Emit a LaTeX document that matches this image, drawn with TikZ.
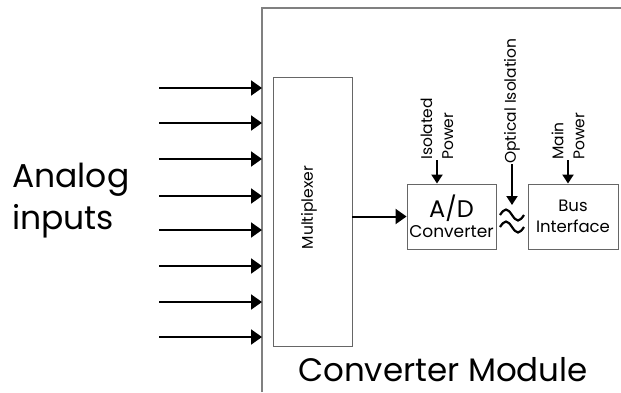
\documentclass[tikz,border=0pt]{standalone}
\usepackage{fontspec}
\setmainfont{Poppins}
\usetikzlibrary{arrows.meta, positioning, calc}

\begin{document}
\begin{tikzpicture}[x=1pt, y=-1pt,
        every node/.style={inner sep=0pt},
        blockbox/.style={draw=black!60, line width=0.9pt, align=center},
        sig/.style={-{Triangle[length=11pt,width=15pt]}, line width=2pt},
        pwr/.style={-{Triangle[length=9pt,width=11pt]}, line width=2pt},
        vlabel/.style={rotate=90, anchor=west, align=left, font=\fontsize{15.5}{21}\selectfont}
    ]
    \useasboundingbox (0,0) rectangle (621,392);
    % module outline
    \coordinate (modbl) at (262,392);
    \coordinate (modtr) at (621,8);
    \draw[black!50, line width=1.6pt] (modbl) |- (modtr);
    \node[anchor=base] (modname) at (443,381) {\fontsize{32.5}{36}\selectfont Converter Module};

    % multiplexer
    \node[blockbox, minimum width=79pt, minimum height=269pt] (mux) at (312.5,211.5) {};
    \node[rotate=90, font=\fontsize{15.5}{18}\selectfont] (muxname) at (309,207.5) {Multiplexer};

    % analog inputs
    \node[anchor=west, align=left, font=\fontsize{33}{42}\selectfont] (analog) at (12,201) {Analog\\inputs};
    \foreach \y [count=\i] in {88,123,159,196,230,266,302,337} {
        \coordinate (in\i) at (159,\y);
        \draw[sig] (in\i) -- (in\i -| modbl);
    }

    % converter and bus interface
    \node[blockbox, minimum width=89pt, minimum height=65pt, font=\fontsize{17}{20}\selectfont] (adc) at (451.5,216.5)
        {{\fontsize{24}{22}\selectfont A/D}\\Converter};
    \node[blockbox, minimum width=90pt, minimum height=65pt, font=\fontsize{16.5}{21}\selectfont] (bus) at (573,216.5)
        {Bus\\Interface};
    \draw[sig] (mux.east |- adc.west) -- (adc.west);

    % power and isolation
    \node[vlabel] (isopow) at (437,160) {Isolated\\Power};
    \draw[pwr] (isopow.west) -- (isopow.west |- adc.north);
    \node[vlabel] (mainpow) at (568,160) {Main\\Power};
    \draw[pwr] (mainpow.west) -- (mainpow.west |- bus.north);
    \coordinate (approx) at (512,205);
    \foreach \dy in {10,22}
        \draw[line width=2.2pt] ($(approx)+(-12,\dy)$) sin ++(6,-5.5) cos ++(6,5.5) sin ++(6,5.5) cos ++(6,-5.5);
    \node[vlabel] (optiso) at (512,164) {Optical Isolation};
    \draw[pwr] (optiso.west) -- (approx);
\end{tikzpicture}
\end{document}
